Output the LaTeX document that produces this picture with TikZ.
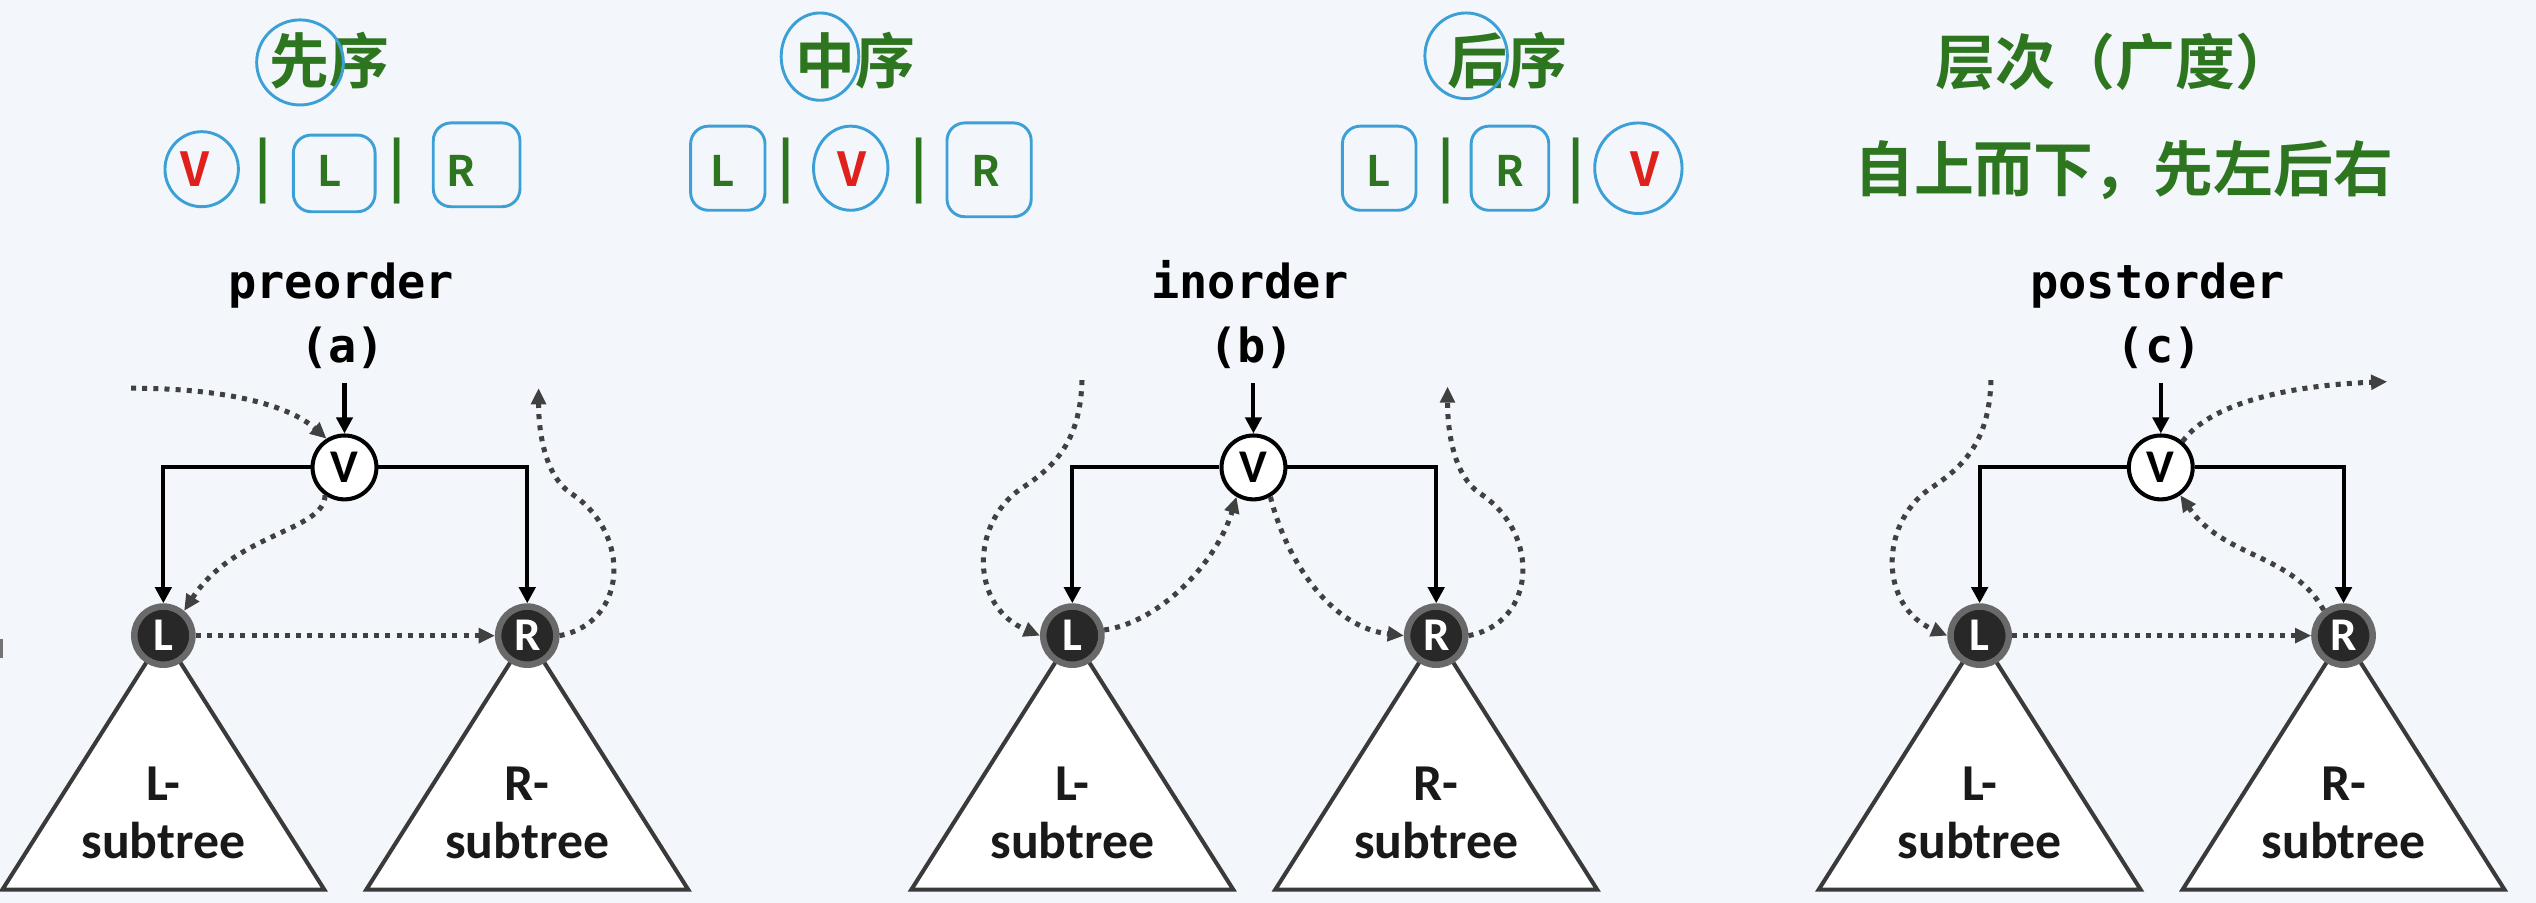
\documentclass[tikz,border=0pt]{standalone}
\usepackage{fontspec}
\usetikzlibrary{arrows.meta}
\newfontfamily\cjk{Noto Sans CJK SC}
\newfontfamily\cjkb{Noto Sans CJK SC Bold}
\newfontfamily\monof{DejaVu Sans Mono}
\newfontfamily\carl{Carlito}
\definecolor{bg}{RGB}{243,246,250}
\definecolor{tgreen}{RGB}{46,117,32}
\definecolor{tred}{RGB}{224,32,27}
\definecolor{pen}{RGB}{60,160,215}
\definecolor{dotc}{RGB}{64,64,64}
\definecolor{subc}{RGB}{58,58,58}
\definecolor{ndark}{RGB}{40,40,40}
\definecolor{nrim}{RGB}{105,105,105}
\newcommand\fsz[1]{\fontsize{#1}{#1}\selectfont}
\tikzset{
  vnode/.style={circle, draw=black, line width=2.5pt, fill=white, minimum size=39.5pt, inner sep=0pt, font=\carl\bfseries\fsz{29}},
  dnode/.style={circle, fill=ndark, draw=nrim, line width=4pt, minimum size=36pt, inner sep=0pt, text=white, font=\carl\bfseries\fsz{29}},
  tree/.style={line width=2.5pt, -{Triangle[length=10pt,width=10pt]}},
  trav/.style={draw=dotc, line width=3.1pt, dash pattern=on 3.1pt off 3.8pt, -{Triangle[length=10pt,width=9pt]}},
  sub/.style={draw=subc, fill=white, line width=2.5pt, line join=miter},
  subt/.style={anchor=base, inner sep=0pt, font=\carl\bfseries\fsz{32}, text=black!90},
  mono/.style={anchor=base, inner sep=0pt, font=\monof\bfseries\fsz{29}},
  ttl/.style={inner sep=0pt, text=tgreen, font=\cjkb\fsz{37}},
  lett/.style={anchor=base, inner sep=0pt, text=tgreen, font=\cjkb\fsz{26}},
  vlett/.style={anchor=base, inner sep=0pt, text=tred, font=\cjkb\fsz{29}},
  bar/.style={anchor=base, inner sep=0pt, text=tgreen, font=\cjkb\fsz{36}},
  penc/.style={draw=pen, line width=1.8pt},
  penb/.style={draw=pen, line width=1.8pt, rounded corners=11pt}
}
\begin{document}
\begin{tikzpicture}[x=1pt,y=-1pt]
\fill[bg] (0,0) rectangle (1568,558);
\useasboundingbox (0,0) rectangle (1568,558);
\fill[black!55] (0,395) rectangle (2,407);

% ---------- titles ----------
\node[ttl] (t1) at (203.5,37.6) {先序};
\node[ttl] (t2) at (529,37.6) {中序};
\node[ttl] (t3) at (932,37.6) {后序};
\node[ttl] (t4) at (1308,38) {层次（广度）};
\node[ttl] (t5) at (1313,105) {自上而下，先左后右};

% row 2, panel a
\node[vlett] (a1) at (120.5,115.6) {V};
\node[bar] (ab1) at (162.6,116) {|};
\node[lett] (a2) at (204,115.6) {L};
\node[bar] (ab2) at (245.5,116) {|};
\node[lett] (a3) at (285,115.6) {R};
% row 2, panel b
\node[lett] (b1) at (447,115.6) {L};
\node[bar] (bb1) at (486,116) {|};
\node[vlett] (b2) at (527,115.6) {V};
\node[bar] (bb2) at (568,116) {|};
\node[lett] (b3) at (609.5,115.6) {R};
% row 2, panel c
\node[lett] (c1) at (852.7,115.6) {L};
\node[bar] (cb1) at (894,116) {|};
\node[lett] (c2) at (933.7,115.6) {R};
\node[bar] (cb2) at (974.5,116) {|};
\node[vlett] (c3) at (1017,115.6) {V};

% hand-drawn pen marks
\draw[penc] (185.5,38.6) ellipse [x radius=26.8pt, y radius=26.3pt];
\draw[penc] (124.7,104.6) ellipse [x radius=22.7pt, y radius=23.2pt];
\draw[penb] (181.4,83.5) rectangle (231.9,130.9);
\draw[penb] (267.9,76) rectangle (321.5,127.8);
\draw[penc] (507,35) ellipse [x radius=24pt, y radius=27pt];
\draw[penb] (427,78) rectangle (473,130);
\draw[penc] (526,104) ellipse [x radius=23pt, y radius=26pt];
\draw[penb] (585.5,76) rectangle (637.6,134);
\draw[penc] (906.5,34.5) ellipse [x radius=25.5pt, y radius=26.5pt];
\draw[penb] (830,78) rectangle (875.5,130);
\draw[penb] (909.6,78) rectangle (957.6,130);
\draw[penc] (1013,104) ellipse [x radius=27pt, y radius=28pt];

% ---------- panel a ----------
\begin{scope}[xshift=213pt]
  \draw[sub] (-112,393) -- (-211.5,550) -- (-12.5,550) -- cycle;
  \draw[sub] (113,393) -- (13.5,550) -- (212.5,550) -- cycle;
  \node[vnode] (Va) at (0,289) {V};
  \node[dnode] (La) at (-112,393) {L};
  \node[dnode] (Ra) at (113,393) {R};
  \node[subt] (lta) at (-112,494.7) {L-};
  \node[subt] (lsa) at (-112,530.5) {subtree};
  \node[subt] (rta) at (113,494.7) {R-};
  \node[subt] (rsa) at (113,530.5) {subtree};
  \node[mono] (na) at (-2,184.6) {preorder};
  \node[mono] (pa) at (-1,224.4) {(a)};
  \coordinate (topa) at (0,237);
  \draw[tree] (topa) -- (Va.north);
  \draw[tree] (Va.west) -| (La.north);
  \draw[tree] (Va.east) -| (Ra.north);
  \coordinate (ina) at (-132,240);
  \coordinate (outa) at (120,240);
  \draw[trav] (ina) .. controls (-75,240) and (-35,250) .. (Va.122);
  \draw[trav] (Va.235) .. controls +(0,22) and +(31,-48) .. (La.50);
  \draw[trav] (La.east) -- (Ra.west);
  \draw[trav] (Ra.east) .. controls (175,385) and (178,330) .. (140,305) .. controls (125,295) and (120,270) .. (outa);
\end{scope}

% ---------- panel b ----------
\begin{scope}[xshift=775pt]
  \draw[sub] (-112,393) -- (-211.5,550) -- (-12.5,550) -- cycle;
  \draw[sub] (113,393) -- (13.5,550) -- (212.5,550) -- cycle;
  \node[vnode] (Vb) at (0,289) {V};
  \node[dnode] (Lb) at (-112,393) {L};
  \node[dnode] (Rb) at (113,393) {R};
  \node[subt] (ltb) at (-112,494.7) {L-};
  \node[subt] (lsb) at (-112,530.5) {subtree};
  \node[subt] (rtb) at (113,494.7) {R-};
  \node[subt] (rsb) at (113,530.5) {subtree};
  \node[mono] (nb) at (-2,184.6) {inorder};
  \node[mono] (pb) at (-1,224.4) {(b)};
  \coordinate (topb) at (0,237);
  \draw[tree] (topb) -- (Vb.north);
  \draw[tree] (Vb.west) -| (Lb.north);
  \draw[tree] (Vb.east) -| (Rb.north);
  \coordinate (inb) at (-106,235);
  \coordinate (outb) at (120,239);
  \draw[trav] (inb) .. controls (-107,275) and (-125,290) .. (-145,303) .. controls (-175,325) and (-175,375) .. (Lb.west);
  \draw[trav] (Lb.10) .. controls +(35,-5) and +(-12,40) .. (Vb.240);
  \draw[trav] (Vb.300) .. controls +(10,40) and +(-45,-5) .. (Rb.west);
  \draw[trav] (Rb.east) .. controls (175,385) and (178,330) .. (140,305) .. controls (125,295) and (120,270) .. (outb);
\end{scope}

% ---------- panel c ----------
\begin{scope}[xshift=1336pt]
  \draw[sub] (-112,393) -- (-211.5,550) -- (-12.5,550) -- cycle;
  \draw[sub] (113,393) -- (13.5,550) -- (212.5,550) -- cycle;
  \node[vnode] (Vc) at (0,289) {V};
  \node[dnode] (Lc) at (-112,393) {L};
  \node[dnode] (Rc) at (113,393) {R};
  \node[subt] (ltc) at (-112,494.7) {L-};
  \node[subt] (lsc) at (-112,530.5) {subtree};
  \node[subt] (rtc) at (113,494.7) {R-};
  \node[subt] (rsc) at (113,530.5) {subtree};
  \node[mono] (nc) at (-2,184.6) {postorder};
  \node[mono] (pc) at (-1,224.4) {(c)};
  \coordinate (topc) at (0,237);
  \draw[tree] (topc) -- (Vc.north);
  \draw[tree] (Vc.west) -| (Lc.north);
  \draw[tree] (Vc.east) -| (Rc.north);
  \coordinate (inc) at (-105,235);
  \coordinate (outc) at (140,236);
  \draw[trav] (inc) .. controls (-106,275) and (-124,290) .. (-144,303) .. controls (-174,325) and (-174,375) .. (Lc.west);
  \draw[trav] (Lc.east) -- (Rc.west);
  \draw[trav] (Rc.128) .. controls +(-19,-35) and +(27,39) .. (Vc.305);
  \draw[trav] (Vc.50) .. controls +(18,-25) and +(-56,2) .. (outc);
\end{scope}
\end{tikzpicture}
\end{document}
